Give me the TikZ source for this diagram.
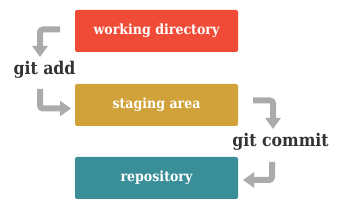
\documentclass[tikz,border=0pt]{standalone}
\usepackage{fontspec}
\setmainfont{DejaVu Serif}
\newfontfamily\slab{DejaVu Serif Condensed}
\usetikzlibrary{arrows.meta,calc}
\definecolor{wdcol}{HTML}{F04B36}
\definecolor{sacol}{HTML}{D2A23A}
\definecolor{rpcol}{HTML}{3A8E98}
\definecolor{arrcol}{HTML}{ABABAB}
\definecolor{txtcol}{HTML}{333333}
\tikzset{
  stagebox/.style={rounded corners=2pt, minimum width=163pt, minimum height=42pt, inner sep=0pt,
    text=white, font=\slab\bfseries\fontsize{14}{16}\selectfont},
  cmdlabel/.style={text=txtcol, inner sep=0pt, font=\slab\bfseries\fontsize{17.5}{20}\selectfont},
  flow/.style={draw=arrcol, line width=6pt, rounded corners=3pt,
    -{Triangle[width=15pt,length=11pt]}}
}
\begin{document}
\begin{tikzpicture}[x=1pt,y=-1pt]
\useasboundingbox (0,0) rectangle (341,216);
\node[stagebox, fill=wdcol] (wd) at (156.5,31) {working directory};
\node[stagebox, fill=sacol] (sa) at (156.5,105) {staging area};
\node[stagebox, fill=rpcol] (rp) at (156.5,178) {repository};
\node[cmdlabel] (add) at (44.5,70) {git add};
\node[cmdlabel] (commit) at (280.5,142) {git commit};
\coordinate (a1s) at (60,29.5);
\coordinate (a1e) at (40,57);
\coordinate (a2s) at (40,89);
\coordinate (a2e) at (71,108.5);
\coordinate (a3s) at (253,100.5);
\coordinate (a3e) at (273,129);
\coordinate (a4s) at (272,162);
\coordinate (a4e) at (243,180);
\draw[flow] (a1s) -| (a1e);
\draw[flow] (a2s) |- (a2e);
\draw[flow] (a3s) -| (a3e);
\draw[flow] (a4s) |- (a4e);
\end{tikzpicture}
\end{document}
